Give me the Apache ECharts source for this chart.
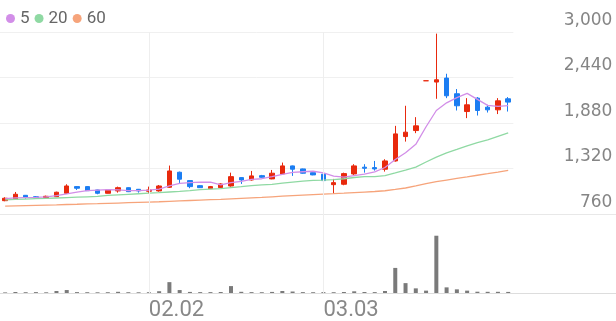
<!DOCTYPE html>
<html>
<head>
<meta charset="utf-8">
<script src="https://cdn.jsdelivr.net/npm/echarts@6/dist/echarts.min.js"></script>
<style>
html,body{margin:0;padding:0;background:#fff;}
#chart{width:616px;height:321px;}
</style>
</head>
<body>
<div id="chart"></div>
<script>
// ---- data ----
const dates = ['01.13','01.14','01.15','01.16','01.19','01.20','01.21','01.22','01.23','01.26',
  '01.27','01.28','01.29','01.30','02.02','02.03','02.04','02.05','02.06','02.09',
  '02.10','02.11','02.12','02.13','02.19','02.20','02.23','02.24','02.25','02.26',
  '02.27','03.03','03.04','03.05','03.06','03.09','03.10','03.11','03.12','03.13',
  '03.16','03.17','03.18','03.19','03.20','03.23','03.24','03.25','03.26','03.27'];
const emptySlots = [' 1',' 2',' 3',' 4',' 5',' 6',' 7',' 8',' 9',' 10'];
const labelDates = ['02.02','03.03'];
const yTicks = [760, 1320, 1880, 2440, 3000];

const openP  = [924,941,990,973,961,973,1015,1097,1097,1056,1015,1044,1084,1064,1040,1044,1089,1274,1171,1109,
  1072,1084,1105,1208,1179,1232,1192,1253,1352,1315,1269,1250,1121,1126,1253,1336,1331,1311,1413,1713,
  1787,2400,2384,2433,2240,2021,2186,2075,2042,2178];
const closeP = [954,1003,970,957,978,1028,1105,1077,1047,1015,1056,1084,1035,1044,1056,1105,1290,1188,1097,1084,
  1097,1130,1220,1179,1229,1212,1262,1352,1311,1262,1241,1171,1146,1257,1352,1323,1315,1413,1746,1767,
  1845,2400,2412,2215,2092,2104,2034,2042,2153,2137];
const lowP   = [917,933,949,953,953,970,1010,1056,1044,1003,1013,1023,1030,1023,1015,1035,1081,1130,1077,1080,
  1068,1080,1097,1130,1171,1208,1188,1245,1229,1257,1237,1130,1012,1114,1241,1269,1294,1282,1405,1651,
  1755,2400,2178,2186,2034,1940,1972,2009,1990,2021];
const highP  = [966,1031,994,978,986,1035,1126,1102,1101,1060,1060,1097,1088,1068,1097,1117,1356,1282,1175,1117,
  1105,1138,1269,1212,1290,1241,1302,1393,1356,1319,1274,1257,1192,1269,1373,1373,1413,1434,1845,2092,
  1952,2400,2980,2486,2298,2186,2199,2104,2186,2199];

const ma5  = [950,958,962,965,972,987,1007,1029,1047,1054,1060,1056,1047,1047,1055,1065,1106,1137,1147,1153,
  1151,1119,1146,1162,1187,1194,1220,1247,1273,1280,1286,1267,1226,1215,1233,1250,1279,1332,1430,1513,
  1617,1834,2034,2128,2193,2245,2171,2097,2085,2094];
const ma20 = [935,940,944,948,952,957,962,967,972,977,988,995,1002,1009,1016,1023,1031,1039,1048,1059,
  1066,1072,1085,1096,1108,1118,1125,1139,1152,1165,1174,1178,1184,1194,1209,1220,1221,1233,1265,1299,
  1337,1400,1460,1512,1555,1599,1638,1672,1715,1758];
const ma60 = [858,861,864,867,870,873,877,880,884,887,891,895,899,903,907,911,916,921,926,931,
  936,941,947,953,959,965,972,979,986,993,999,1005,1010,1016,1023,1030,1037,1046,1062,1080,
  1105,1135,1158,1178,1198,1217,1237,1256,1276,1298];

const volume = [60,100,80,90,70,200,300,90,80,70,80,120,80,70,80,180,1100,300,110,90,
  90,100,700,120,90,80,110,200,150,90,80,90,80,100,170,100,90,200,2540,1000,
  470,240,5800,570,370,240,130,120,120,110];

// ---- build ----
const allSlots = dates.concat(emptySlots);
const candles = dates.map((d, i) => [openP[i], closeP[i], lowP[i], highP[i]]);
const RED = '#e8290d', BLUE = '#1b7df2';
const C5 = '#d28ee8', C20 = '#8fd9a3', C60 = '#f6a47b';
const vLines = {
  silent: true, symbol: 'none', label: {show: false},
  lineStyle: {color: '#eeeeee', width: 1, type: 'solid'},
  data: labelDates.map(d => ({xAxis: d})), animation: false
};

const chart = echarts.init(document.getElementById('chart'), null, {renderer: 'canvas'});
chart.setOption({
  animation: false,
  backgroundColor: '#ffffff',
  legend: {
    data: ['5', '20', '60'], icon: 'circle', itemWidth: 9, itemHeight: 9, itemGap: 5,
    left: 1, top: 5, selectedMode: false,
    textStyle: {fontFamily: 'Roboto', fontSize: 17, color: '#666666'}
  },
  grid: [
    {left: 0, right: 102.67, top: 32, bottom: 107},
    {left: 0, right: 0, top: 214, bottom: 27},
    {left: 0, right: 0, top: 32, bottom: 107}
  ],
  xAxis: [
    {type: 'category', gridIndex: 0, data: dates, boundaryGap: true,
     axisLine: {show: false}, axisTick: {show: false}, axisLabel: {show: false}, splitLine: {show: false}},
    {type: 'category', gridIndex: 1, data: allSlots, boundaryGap: true,
     axisLine: {show: true, lineStyle: {color: '#dddddd', width: 1}}, axisTick: {show: false},
     axisLabel: {show: true, interval: (i, v) => labelDates.indexOf(v) >= 0, align: 'left', margin: 6,
       fontFamily: 'Roboto', fontSize: 22, color: '#888888'},
     splitLine: {show: false}},
    {type: 'category', gridIndex: 2, data: allSlots, boundaryGap: true,
     axisLine: {show: true, lineStyle: {color: '#e8e8e8', width: 1}}, axisTick: {show: false},
     axisLabel: {show: false}, splitLine: {show: false}}
  ],
  yAxis: [
    {type: 'value', gridIndex: 0, position: 'right', min: yTicks[0], max: yTicks[yTicks.length - 1], interval: 560,
     axisLine: {show: false}, axisTick: {show: false},
     splitLine: {show: true, lineStyle: {color: '#f0f0f0', width: 1}},
     axisLabel: {show: true, align: 'right', verticalAlign: 'bottom', lineHeight: 23, margin: 99,
       fontFamily: 'DejaVu Sans', fontSize: 17, color: '#858585'}},
    {type: 'value', gridIndex: 1, min: 0, max: 8000, show: false, splitLine: {show: false}},
    {type: 'value', gridIndex: 2, show: false, splitLine: {show: false}}
  ],
  series: [
    {type: 'candlestick', name: 'price', xAxisIndex: 0, yAxisIndex: 0, data: candles, barWidth: 5,
     itemStyle: {color: RED, color0: BLUE, borderColor: RED, borderColor0: BLUE, borderColorDoji: RED, borderWidth: 1},
     markLine: vLines},
    {type: 'line', name: '5', xAxisIndex: 0, yAxisIndex: 0, data: ma5, showSymbol: false, symbol: 'none',
     lineStyle: {color: C5, width: 1.3}, itemStyle: {color: C5}},
    {type: 'line', name: '20', xAxisIndex: 0, yAxisIndex: 0, data: ma20, showSymbol: false, symbol: 'none',
     lineStyle: {color: C20, width: 1.3}, itemStyle: {color: C20}},
    {type: 'line', name: '60', xAxisIndex: 0, yAxisIndex: 0, data: ma60, showSymbol: false, symbol: 'none',
     lineStyle: {color: C60, width: 1.3}, itemStyle: {color: C60}},
    {type: 'bar', name: 'vol', xAxisIndex: 1, yAxisIndex: 1, data: volume, barWidth: 4,
     itemStyle: {color: '#7a7a7a'}, markLine: vLines}
  ]
});
</script>
</body>
</html>
